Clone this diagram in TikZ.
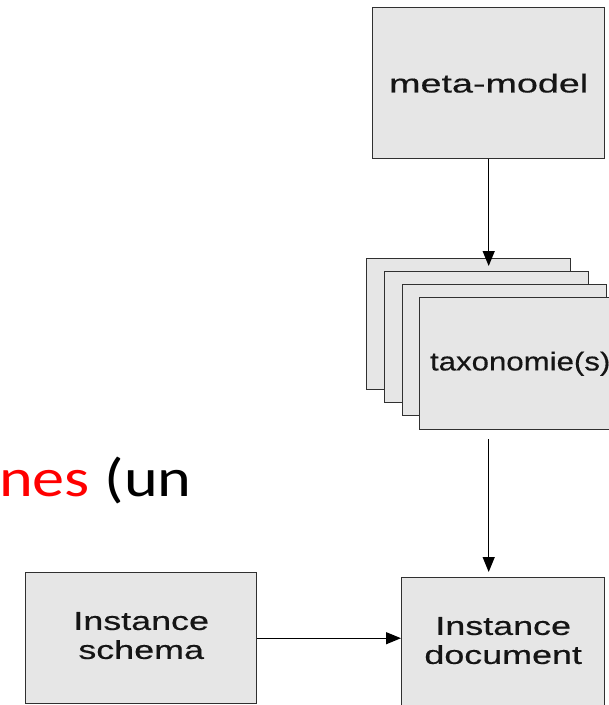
\documentclass[tikz,border=0pt]{standalone}
\usepackage{fontspec}
\usepackage{graphicx}
\usetikzlibrary{arrows.meta}
\newfontfamily\boxfont[FakeBold=0.4]{Liberation Sans}
\newfontfamily\slidefont{Carlito}
\definecolor{boxfill}{HTML}{E6E6E6}
\definecolor{boxline}{HTML}{303030}
\definecolor{txt}{HTML}{151515}
\definecolor{slidered}{HTML}{FF0000}
\tikzset{
  box/.style={draw=boxline, fill=boxfill, line width=1.4pt, inner sep=0pt, anchor=north west,
    text=txt, font=\boxfont\fontsize{26}{31}\selectfont},
  card/.style={box, minimum width=204pt, minimum height=131pt},
  arr/.style={line width=1.2pt, black, -{Triangle[length=15pt,width=12pt]}},
}
\begin{document}
\begin{tikzpicture}[x=1pt,y=-1pt]
\useasboundingbox (0,0) rectangle (609,705);
% slide text behind
\node[anchor=base west, inner sep=0pt, font=\slidefont\fontsize{54}{60}\selectfont] (slide) at (-1,496)
  {\scalebox{1.19}[1]{\textcolor{slidered}{nes} (un}};
% meta-model
\node[box, minimum width=232pt, minimum height=151pt] (meta) at (372,7) {\scalebox{1.45}[1]{meta-model}};
% taxonomy cards
\node[card] (c1) at (366,258) {};
\node[card] (c2) at (384,271) {};
\node[card] (c3) at (401.5,284) {};
\node[card, minimum height=132pt] (c4) at (419,297) {\hspace*{-3pt}\scalebox{1.2}[1]{taxonomie(s)}};
% instance boxes
\node[box, minimum width=231pt, minimum height=131pt] (schema) at (25,572)
  {\scalebox{1.38}[1]{\begin{tabular}{@{}c@{}}Instance\\[-2pt]schema\end{tabular}}};
\node[box, minimum width=203pt, minimum height=131pt] (doc) at (401,577)
  {\scalebox{1.38}[1]{\begin{tabular}{@{}c@{}}Instance\\[-2pt]document\end{tabular}}};
% arrows
\draw[arr, shorten >=-8pt] (meta.south) -- (meta.south |- c1.north);
\draw[arr, shorten <=9pt, shorten >=5pt] (meta.south |- c4.south) -- (meta.south |- doc.north);
\draw[arr] (schema.east) -- (schema.east -| doc.west);
\end{tikzpicture}
\end{document}
